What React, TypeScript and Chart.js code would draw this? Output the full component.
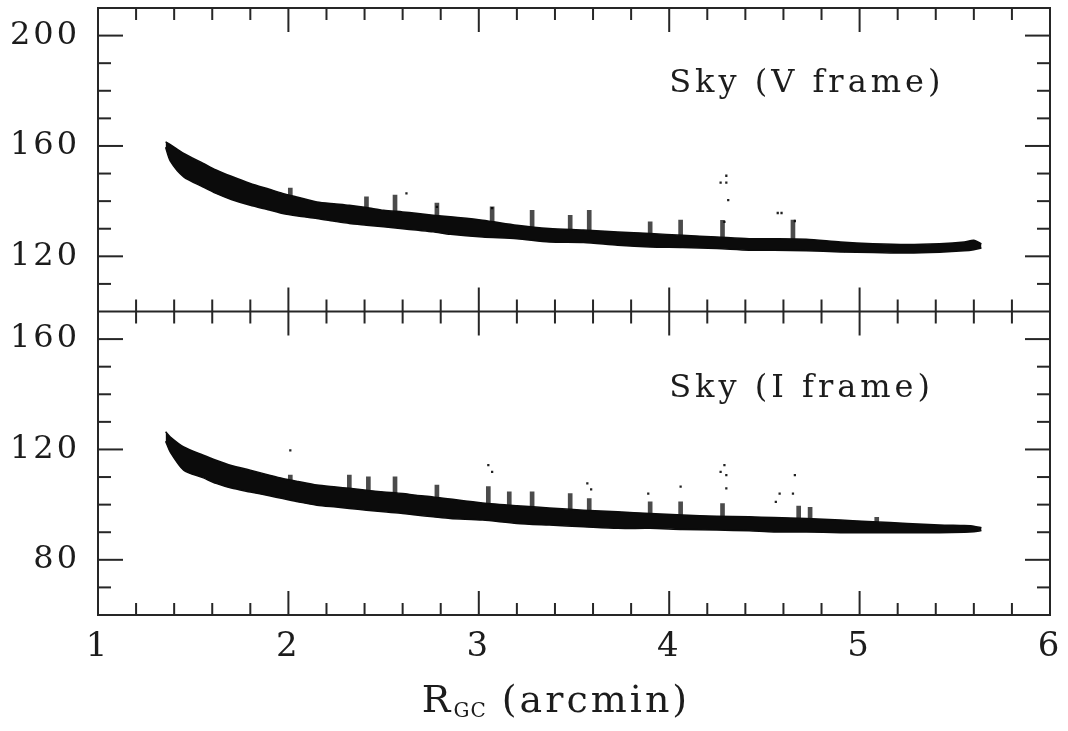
import { useEffect, useRef } from 'react';
import { Chart, registerables } from 'chart.js';

Chart.register(...registerables);

// Axis limits and labelled ticks
const xRange = [1, 6];
const xTickValues = [1, 2, 3, 4, 5, 6];
const vRange = [100, 210];
const vTickValues = [120, 160, 200];
const iRange = [60, 170];
const iTickValues = [80, 120, 160];

// Radial positions (arcmin) where the sky-level band edges are sampled
const bandX = [
  1.355, 1.38, 1.45, 1.55, 1.62, 1.7, 1.8, 1.9, 1.97, 2.05, 2.15, 2.25, 2.32,
  2.41, 2.5, 2.6, 2.67, 2.76, 2.85, 3.02, 3.2, 3.37, 3.55, 3.73, 3.9, 4.07,
  4.25, 4.42, 4.55, 4.72, 4.9, 5.07, 5.25, 5.42, 5.55, 5.6, 5.64,
];

// V frame sky: upper and lower envelope of the dense band
const vUpper = [
  161.5, 160.5, 157.3, 153.8, 151.3, 149.0, 146.4, 144.3, 142.8, 141.4, 139.7,
  139.0, 138.5, 137.7, 136.7, 136.1, 135.6, 134.9, 134.3, 133.1, 131.3, 130.1,
  129.5, 128.8, 128.3, 127.6, 127.0, 126.4, 126.4, 126.2, 125.2, 124.6, 124.3,
  124.6, 125.2, 125.8, 124.5,
];
const vLower = [
  159.5, 154.5, 148.8, 145.2, 142.8, 140.6, 138.5, 136.8, 135.5, 134.6, 133.7,
  132.6, 131.9, 131.3, 130.7, 130.0, 129.5, 128.9, 128.0, 127.0, 126.4, 125.2,
  125.0, 124.0, 123.4, 123.2, 122.8, 122.2, 122.2, 122.0, 121.6, 121.4, 121.2,
  121.5, 122.0, 122.4, 123.0,
];

// I frame sky: upper and lower envelope of the dense band
const iUpper = [
  126.4, 124.5, 120.9, 118.0, 116.1, 114.2, 112.5, 110.7, 109.5, 108.4, 107.1,
  106.4, 105.9, 105.2, 104.6, 104.0, 103.4, 102.8, 102.0, 100.6, 99.6, 98.8,
  98.0, 97.4, 96.8, 96.2, 95.8, 95.6, 95.3, 95.0, 94.4, 93.8, 93.2, 92.6, 92.4,
  92.2, 91.6,
];
const iLower = [
  123.0, 119.0, 112.5, 109.8, 107.7, 106.0, 104.6, 103.2, 102.2, 101.0, 99.8,
  99.1, 98.6, 98.0, 97.4, 96.8, 96.2, 95.6, 95.0, 94.4, 93.2, 92.6, 92.0, 91.4,
  91.4, 91.0, 90.8, 90.5, 90.1, 90.1, 89.8, 89.8, 89.8, 89.8, 90.0, 90.2, 90.6,
];

// Plumes of brighter sky values rising above the band
const vSpikeX = [2.01, 2.41, 2.56, 2.78, 3.07, 3.28, 3.48, 3.58, 3.9, 4.06, 4.28, 4.65];
const vSpikeLow = [140, 137, 136, 134, 132, 130, 129, 129, 127, 126.5, 126, 125];
const vSpikeHigh = [144.7, 141.6, 142.2, 139.3, 137.9, 136.7, 134.9, 136.7, 132.5, 133.1, 133.0, 133.1];

const iSpikeX = [2.01, 2.32, 2.42, 2.56, 2.78, 3.05, 3.16, 3.28, 3.48, 3.58, 3.9, 4.06, 4.28, 4.68, 4.74, 5.09];
const iSpikeLow = [107, 104, 104, 103, 101, 99, 98.5, 98, 97.5, 97, 96, 95.5, 95, 94, 94, 93];
const iSpikeHigh = [110.7, 110.7, 110.1, 110.1, 107.1, 106.5, 104.6, 104.6, 104.0, 102.2, 101.0, 101.0, 100.4, 99.5, 99.0, 95.4];

// Isolated stray measurements
const vOutX = [2.62, 2.78, 3.07, 4.27, 4.30, 4.30, 4.31, 4.29, 4.57, 4.59, 4.66];
const vOutY = [142.8, 137.9, 137.5, 146.7, 146.7, 149.2, 140.4, 132.5, 135.7, 135.7, 132.8];

const iOutX = [2.01, 3.05, 3.07, 3.57, 3.59, 3.89, 4.06, 4.29, 4.27, 4.30, 4.30, 4.66, 4.65, 4.58, 4.56];
const iOutY = [119.7, 114.3, 111.9, 107.7, 105.5, 104.0, 106.5, 114.3, 111.9, 110.7, 105.9, 110.7, 104.0, 104.0, 101.0];

const FONT = 'DejaVu Serif';
const INK = '#1c1c1c';

const pts = (xs: number[], ys: number[]) => xs.map((x, k) => ({ x, y: ys[k] }));
const bars = (xs: number[], lo: number[], hi: number[]) =>
  xs.map((x, k) => ({ x, y: [lo[k], hi[k]] }));

// Fixed axis boxes, no extra room reserved for the end labels
const fixBox = (w?: number, h?: number) => (s: any) => {
  if (w !== undefined) s.width = w;
  if (h !== undefined) s.height = h;
  s.paddingTop = 0;
  s.paddingBottom = 0;
  s.paddingLeft = 0;
  s.paddingRight = 0;
};

const framePlugin = {
  id: 'frameTicks',
  beforeDraw(chart: any) {
    chart.ctx.letterSpacing = '3px';
  },
  afterDatasetsDraw(chart: any) {
    const { ctx, chartArea: a, scales } = chart;
    const xs = scales.x;
    const panels = [
      { s: scales.yV, r: vRange },
      { s: scales.yI, r: iRange },
    ];
    ctx.save();
    ctx.strokeStyle = '#262626';
    ctx.lineWidth = 2;
    const seg = (x1: number, y1: number, x2: number, y2: number) => {
      ctx.beginPath();
      ctx.moveTo(x1, y1);
      ctx.lineTo(x2, y2);
      ctx.stroke();
    };
    ctx.strokeRect(a.left, a.top, a.right - a.left, a.bottom - a.top);
    seg(a.left, scales.yV.bottom, a.right, scales.yV.bottom);

    // y tick marks every 10, long ones every 40, on both sides
    for (const p of panels) {
      for (let v = p.r[0] + 10; v < p.r[1]; v += 10) {
        const py = p.s.getPixelForValue(v);
        const len = v % 40 === 0 ? 25 : 13;
        seg(a.left, py, a.left + len, py);
        seg(a.right, py, a.right - len, py);
      }
    }
    // x tick marks every 0.2, long ones at integers, on every panel edge
    for (let k = 1; k < (xRange[1] - xRange[0]) * 5; k++) {
      const v = xRange[0] + k * 0.2;
      const px = xs.getPixelForValue(v);
      const len = k % 5 === 0 ? 24 : 12;
      for (const p of panels) {
        seg(px, p.s.top, px, p.s.top + len);
        seg(px, p.s.bottom, px, p.s.bottom - len);
      }
    }

    // panel captions
    ctx.fillStyle = INK;
    ctx.textBaseline = 'alphabetic';
    ctx.textAlign = 'left';
    ctx.font = `32px ${FONT}`;
    ctx.letterSpacing = '4px';
    ctx.fillText('Sky (V frame)', xs.getPixelForValue(4.0), scales.yV.getPixelForValue(179.5));
    ctx.fillText('Sky (I frame)', xs.getPixelForValue(4.0), scales.yI.getPixelForValue(139));

    // x-axis title with subscript
    ctx.font = `38px ${FONT}`;
    ctx.letterSpacing = '3px';
    const r = 'R';
    const sub = 'GC';
    const rest = ' (arcmin)';
    const wR = ctx.measureText(r).width;
    const wRest = ctx.measureText(rest).width;
    ctx.font = `20px ${FONT}`;
    ctx.letterSpacing = '1px';
    const wSub = ctx.measureText(sub).width;
    const total = wR + wSub + wRest;
    const cx = 556;
    const base = 712;
    let x0 = cx - total / 2;
    ctx.font = `38px ${FONT}`;
    ctx.letterSpacing = '3px';
    ctx.fillText(r, x0, base);
    x0 += wR;
    ctx.font = `20px ${FONT}`;
    ctx.letterSpacing = '1px';
    ctx.fillText(sub, x0, base + 5);
    x0 += wSub;
    ctx.font = `38px ${FONT}`;
    ctx.letterSpacing = '3px';
    ctx.fillText(rest, x0, base);
    ctx.restore();
  },
  afterDraw(chart: any) {
    chart.ctx.letterSpacing = '0px';
  },
};

export default function App() {
  const ref = useRef<HTMLCanvasElement | null>(null);

  useEffect(() => {
    if (!ref.current) return;
    const band = { pointRadius: 0, borderWidth: 1.5, borderColor: '#0b0b0b', tension: 0.25 };
    const spike = {
      type: 'bar',
      barThickness: 4,
      grouped: false,
      backgroundColor: 'rgba(5,5,5,0.72)',
    };
    const stray = {
      type: 'scatter',
      pointStyle: 'rect',
      pointRadius: 1.6,
      borderWidth: 0,
      backgroundColor: '#222',
    };
    const chart = new Chart(ref.current, {
      type: 'line',
      data: {
        datasets: [
          { ...band, data: pts(bandX, vLower), yAxisID: 'yV', fill: false },
          { ...band, data: pts(bandX, vUpper), yAxisID: 'yV', fill: 0, backgroundColor: '#0b0b0b' },
          { ...band, data: pts(bandX, iLower), yAxisID: 'yI', fill: false },
          { ...band, data: pts(bandX, iUpper), yAxisID: 'yI', fill: 2, backgroundColor: '#0b0b0b' },
          { ...spike, data: bars(vSpikeX, vSpikeLow, vSpikeHigh), yAxisID: 'yV' } as any,
          { ...spike, data: bars(iSpikeX, iSpikeLow, iSpikeHigh), yAxisID: 'yI' } as any,
          { ...stray, data: pts(vOutX, vOutY), yAxisID: 'yV' } as any,
          { ...stray, data: pts(iOutX, iOutY), yAxisID: 'yI' } as any,
        ],
      },
      options: {
        animation: false,
        responsive: false,
        devicePixelRatio: 1,
        events: [],
        layout: { padding: { top: 8, right: 18, left: 0, bottom: 0 } },
        plugins: { legend: { display: false }, tooltip: { enabled: false } },
        scales: {
          x: {
            type: 'linear',
            min: xRange[0],
            max: xRange[1],
            offset: false,
            grid: { display: false, drawTicks: false },
            border: { display: false },
            afterBuildTicks: (s: any) => {
              s.ticks = xTickValues.map((value) => ({ value }));
            },
            afterFit: fixBox(undefined, 116),
            ticks: { font: { family: FONT, size: 34 }, color: INK, padding: 12, maxRotation: 0 },
          },
          yI: {
            type: 'linear',
            position: 'left',
            stack: 'panels',
            stackWeight: 1,
            min: iRange[0],
            max: iRange[1],
            grid: { display: false, drawTicks: false },
            border: { display: false },
            afterBuildTicks: (s: any) => {
              s.ticks = iTickValues.map((value) => ({ value }));
            },
            afterFit: fixBox(98),
            ticks: { font: { family: FONT, size: 32 }, color: INK, padding: 18 },
          },
          yV: {
            type: 'linear',
            position: 'left',
            stack: 'panels',
            stackWeight: 1,
            min: vRange[0],
            max: vRange[1],
            grid: { display: false, drawTicks: false },
            border: { display: false },
            afterBuildTicks: (s: any) => {
              s.ticks = vTickValues.map((value) => ({ value }));
            },
            afterFit: fixBox(98),
            ticks: { font: { family: FONT, size: 32 }, color: INK, padding: 18 },
          },
        },
      } as any,
      plugins: [framePlugin],
    });
    return () => chart.destroy();
  }, []);

  return (
    <div style={{ position: 'absolute', left: 0, top: 0, width: 1068, height: 731, background: '#fff' }}>
      <canvas ref={ref} width={1068} height={731} />
    </div>
  );
}
